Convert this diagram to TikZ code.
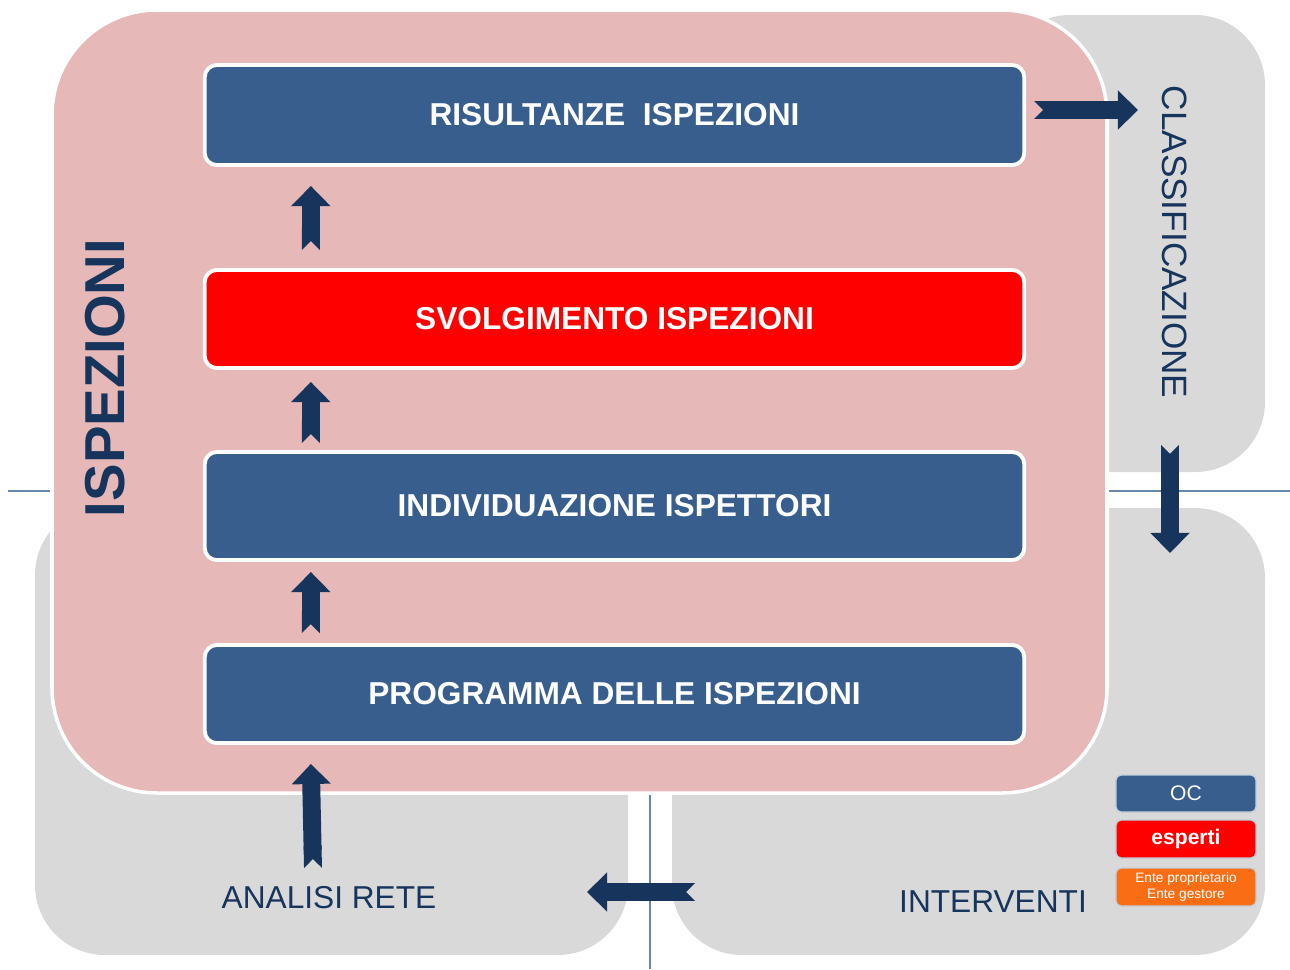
\documentclass[tikz,border=0pt]{standalone}
\usepackage{fontspec}
\setmainfont{Liberation Sans}
\usetikzlibrary{arrows.meta,positioning,calc}
\definecolor{boxblue}{RGB}{56,94,142}
\definecolor{navy}{RGB}{22,52,92}
\definecolor{pinkbg}{RGB}{230,184,183}
\definecolor{greybg}{RGB}{217,217,217}
\definecolor{guide}{RGB}{104,134,168}
\definecolor{legorange}{RGB}{249,110,20}
\tikzstyle{greyarea}=[fill=greybg,rounded corners=0.7cm]
\tikzstyle{phasebox}=[draw=white,line width=1.1pt,rounded corners=0.12cm,minimum width=8.19cm,text=white,font=\bfseries\fontsize{9}{10}\selectfont]
\tikzstyle{legbox}=[draw=white!70!boxblue,line width=0.4pt,rounded corners=0.05cm,minimum width=1.4cm,inner sep=0pt,text=white]
\tikzstyle{areatext}=[text=navy,font=\fontsize{9}{10}\selectfont]
\tikzstyle{blockarr}=[draw=navy,line width=5.1pt,{Triangle Cap[reversed]}-{Triangle[width=10.8pt,length=5.7pt]}]

\begin{document}
\begin{tikzpicture}[x=0.01cm,y=-0.01cm]
  \useasboundingbox (0,0) rectangle (1290,969);
  % guide lines
  \draw[guide,line width=0.4pt] (8,491) -- (1290,491);
  \draw[guide,line width=0.4pt] (650,795) -- (650,969);
  % grey areas
  \fill[greyarea] (1000,15) rectangle (1265,472);
  \fill[greyarea] (35,505) rectangle (628,955);
  \fill[greyarea] (672,508) rectangle (1265,955);
  % ispezioni area
  \filldraw[fill=pinkbg,draw=white,line width=1pt,rounded corners=1.05cm] (52,10) rectangle (1107,793);

  \node[phasebox,fill=boxblue,minimum height=1cm]    (risult) at (614.5,115) {RISULTANZE\ \ ISPEZIONI};
  \node[phasebox,fill=red,minimum height=0.98cm]     (svolg)  at (614.5,319) {SVOLGIMENTO ISPEZIONI};
  \node[phasebox,fill=boxblue,minimum height=1.08cm] (indiv)  at (614.5,506) {INDIVIDUAZIONE ISPETTORI};
  \node[phasebox,fill=boxblue,minimum height=0.98cm] (prog)   at (614.5,694) {PROGRAMMA DELLE ISPEZIONI};

  \node[rotate=90,text=navy,font=\bfseries\fontsize{16}{18}\selectfont] (isp) at (105,378) {ISPEZIONI};
  \node[areatext,rotate=-90,font=\fontsize{10}{12}\selectfont] (classif) at (1175,242) {CLASSIFICAZIONE};
  \node[areatext] (analisi) at (329,898) {ANALISI RETE};
  \node[areatext] (interv)  at (993,902) {INTERVENTI};

  % legend
  \node[legbox,fill=boxblue,minimum height=0.37cm,font=\fontsize{6}{7}\selectfont] (oc) at (1186,793.5) {OC};
  \node[legbox,fill=red,minimum height=0.38cm,font=\bfseries\fontsize{6}{7}\selectfont] (esp) at (1186,839) {esperti};
  \node[legbox,fill=legorange,minimum height=0.38cm,align=center,font=\fontsize{3.9}{4.4}\selectfont] (ente) at (1186,887) {Ente proprietario\\Ente gestore};

  \coordinate (ar4) at (313,868);
  \coordinate (toclass) at (1138,110);
  \coordinate (cl1) at (1170,445);
  \coordinate (cl2) at (1170,553);
  \coordinate (in1) at (695,892);
  \coordinate (in2) at (587,892);

  \draw[blockarr] ($(svolg.north west)+(108,-18)$) -- ($(risult.south west)+(108,19)$);
  \draw[blockarr] ($(indiv.north west)+(108,-7)$) -- ($(svolg.south west)+(108,12)$);
  \draw[blockarr] ($(prog.north west)+(108,-10)$) -- ($(indiv.south west)+(108,10)$);
  \draw[blockarr] (ar4) -- ($(prog.south west)+(108,19)$);
  \draw[blockarr] ($(risult.east)+(8,-5)$) -- (toclass);
  \draw[blockarr] (cl1) -- (cl2);
  \draw[blockarr] (in1) -- (in2);
\end{tikzpicture}
\end{document}
